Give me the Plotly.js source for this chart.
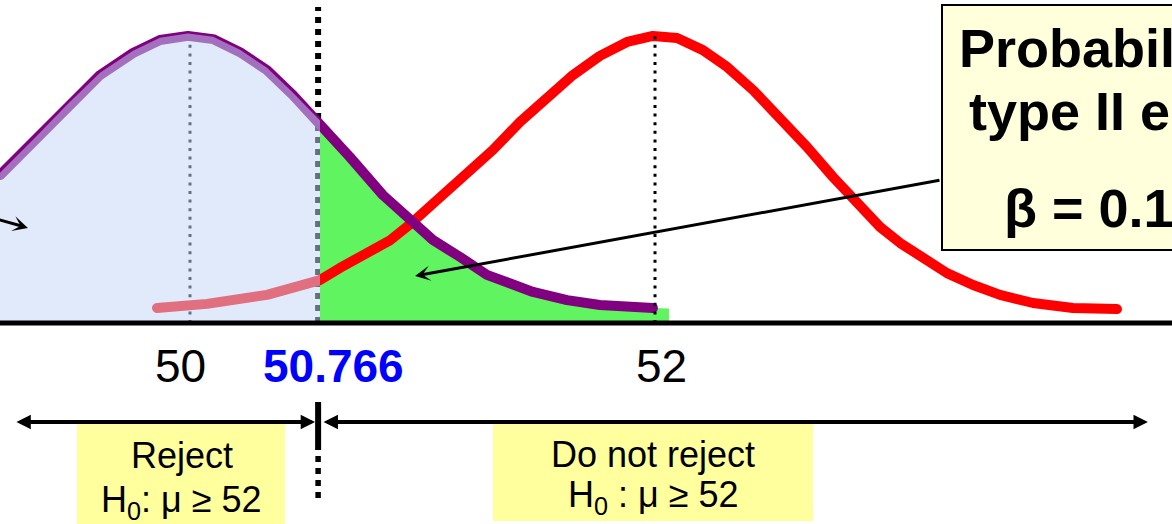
<!DOCTYPE html>
<html>
<head>
<meta charset="utf-8">
<script src="https://cdn.plot.ly/plotly-3.0.1.min.js"></script>
<style>
  html, body { margin: 0; padding: 0; background: #ffffff; }
  #chart { width: 1172px; height: 524px; }
  .js-line { stroke-linecap: round; stroke-linejoin: round; }
</style>
</head>
<body>
<div id="chart"></div>
<script>
// ---- data (x in sample-mean units, y = relative density) ----
const purpleX = [49.183, 49.325, 49.471, 49.613, 49.755, 49.871, 49.991, 50.099, 50.215, 50.331, 50.443,
                 50.559, 50.688, 50.830, 50.946, 51.045, 51.161, 51.277, 51.475, 51.622, 51.763, 51.991];
const purpleY = [0.510, 0.624, 0.745, 0.855, 0.931, 0.976, 0.990, 0.979, 0.934, 0.872, 0.786,
                 0.690, 0.572, 0.441, 0.355, 0.286, 0.228, 0.166, 0.107, 0.079, 0.062, 0.052];

const redX = [49.858, 50.073, 50.331, 50.559, 50.645, 50.860, 50.946, 51.088, 51.191, 51.303, 51.419,
              51.535, 51.647, 51.763, 51.880, 51.991, 52.095, 52.206, 52.310, 52.422, 52.538, 52.654,
              52.766, 52.882, 52.968, 53.054, 53.153, 53.256, 53.368, 53.484, 53.626, 53.798, 53.987];
const redY = [0.052, 0.066, 0.097, 0.148, 0.190, 0.285, 0.340, 0.440, 0.518, 0.597, 0.693,
              0.776, 0.855, 0.921, 0.969, 0.990, 0.983, 0.941, 0.883, 0.803, 0.710, 0.607,
              0.503, 0.400, 0.331, 0.276, 0.224, 0.172, 0.131, 0.097, 0.069, 0.052, 0.048];

const tickLabels = ["50", "50.766", "52"];
const meanH0 = 50;          // purple curve centre
const meanH1 = 52;          // red curve centre
const critValue = 50.766;   // critical value (label)
const critDrawn = 50.551;   // where the slide draws the critical line
const splitX = 50.559;      // fill split at the critical line
const greenEnd = [52.06, 0.05];
const rejectLabel = ["Reject", "H<sub>0</sub>: μ ≥ 52"];
const keepLabel = ["Do not reject", "H<sub>0</sub> : μ ≥ 52"];
const calloutLines = ["Probability of", "type II error", "β = 0.1"];

// ---- helpers for layout placement ----
const W = 1172, H = 524;
const xr = [49.18280, 54.22366];
const yr = [-0.69310, 1.11379];
const PX = p => p / W;
const PY = p => 1 - p / H;
const FONT = "Arial, 'Liberation Sans', sans-serif";

const idxBlue = purpleX.map((v, i) => i).filter(i => purpleX[i] <= splitX + 1e-9);
const idxGreen = purpleX.map((v, i) => i).filter(i => purpleX[i] >= splitX - 1e-9);

const traces = [
  { // beta region (green)
    x: idxGreen.map(i => purpleX[i]).concat([greenEnd[0]]),
    y: idxGreen.map(i => purpleY[i]).concat([greenEnd[1]]),
    mode: 'none', fill: 'tozeroy', fillcolor: '#60f560', hoverinfo: 'skip'
  },
  { // true-mean distribution (red)
    x: redX, y: redY, mode: 'lines',
    line: { color: '#ff0000', width: 10 }, hoverinfo: 'skip'
  },
  { // H0 distribution (purple)
    x: purpleX, y: purpleY, mode: 'lines',
    line: { color: '#800080', width: 10 }, hoverinfo: 'skip'
  },
  { // rejection region overlay (translucent blue)
    x: idxBlue.map(i => purpleX[i]), y: idxBlue.map(i => purpleY[i] + 0.008),
    mode: 'none', fill: 'tozeroy', fillcolor: 'rgba(196,215,246,0.52)', hoverinfo: 'skip'
  }
];

const yArrow = (323 - 422) / 290;

const shapes = [
  // thin dotted lines at the means
  { type: 'line', xref: 'x', yref: 'y', x0: meanH0, x1: meanH0, y0: 0, y1: Math.max(...purpleY),
    line: { color: '#000000', width: 3, dash: '3px,5.6px' }, layer: 'below' },
  { type: 'line', xref: 'x', yref: 'y', x0: meanH1, x1: meanH1, y0: 0, y1: Math.max(...redY),
    line: { color: '#000000', width: 3, dash: '3px,5.6px' }, layer: 'above' },
  // critical line (upper dotted part)
  { type: 'line', xref: 'x', yref: 'y', x0: critDrawn, x1: critDrawn, y0: 0, y1: (323 - 7) / 290,
    line: { color: '#000000', width: 6, dash: '6px,6px' }, layer: 'below' },
  // critical tick on the decision line
  { type: 'line', xref: 'x', yref: 'y', x0: critDrawn, x1: critDrawn, y0: (323 - 402) / 290, y1: (323 - 450) / 290,
    line: { color: '#000000', width: 6 }, layer: 'above' },
  { type: 'line', xref: 'x', yref: 'y', x0: critDrawn, x1: critDrawn, y0: (323 - 456) / 290, y1: (323 - 501) / 290,
    line: { color: '#000000', width: 5.5, dash: '6px,6px' }, layer: 'above' },
  // horizontal axis
  { type: 'line', xref: 'paper', yref: 'y', x0: 0, x1: 1, y0: 0, y1: 0,
    line: { color: '#000000', width: 5 }, layer: 'above' },
  // yellow label boxes
  { type: 'rect', xref: 'paper', yref: 'paper', x0: PX(77), x1: PX(285), y0: PY(524), y1: PY(424),
    fillcolor: '#ffff9e', line: { width: 0 }, layer: 'above' },
  { type: 'rect', xref: 'paper', yref: 'paper', x0: PX(493), x1: PX(813), y0: PY(521), y1: PY(424),
    fillcolor: '#ffff9e', line: { width: 0 }, layer: 'above' },
  // callout box
  { type: 'rect', xref: 'paper', yref: 'paper', x0: PX(942), x1: PX(1300), y0: PY(250), y1: PY(5),
    fillcolor: '#ffffdc', line: { color: '#000000', width: 2 }, layer: 'above' }
];

const txt = (text, x, yTop, size, opts = {}) => Object.assign({
  text: text, xref: 'paper', yref: 'paper', x: PX(x), y: PY(yTop),
  xanchor: 'center', yanchor: 'top', showarrow: false,
  font: { family: FONT, size: size, color: '#000000' }
}, opts);

const arrow = (x, y, ax, ay, opts) => Object.assign({
  text: '', xref: 'x', yref: 'y', axref: 'x', ayref: 'y',
  x: x, y: y, ax: ax, ay: ay, showarrow: true, arrowcolor: '#000000'
}, opts);

const annotations = [
  // axis tick labels
  txt(tickLabels[0], 180, 338, 46),
  txt('<b>' + tickLabels[1] + '</b>', 333.5, 338, 46, { font: { family: FONT, size: 46, color: '#0000ff' } }),
  txt(tickLabels[2], 661, 338, 46),
  // region labels
  txt(rejectLabel[0], 181.5, 433, 36),
  txt(rejectLabel[1], 181.5, 477, 36),
  txt(keepLabel[0], 653, 432, 36),
  txt(keepLabel[1], 653, 472, 36),
  // callout text
  txt('<b>' + calloutLines[0] + '</b>', 957, 16, 54, { xanchor: 'left' }),
  txt('<b>' + calloutLines[1] + '</b>', 967, 79, 54, { xanchor: 'left' }),
  txt('<b>' + calloutLines[2] + '</b>', 1002, 176, 54, { xanchor: 'left' }),
  // decision-line arrows
  arrow(50.538, yArrow, 49.247, yArrow, { arrowhead: 2, startarrowhead: 2, arrowside: 'end+start',
    arrowwidth: 4, arrowsize: 0.72, startarrowsize: 0.72, standoff: 0, startstandoff: 0 }),
  arrow(54.120, yArrow, 50.568, yArrow, { arrowhead: 2, startarrowhead: 2, arrowside: 'end+start',
    arrowwidth: 4, arrowsize: 0.72, startarrowsize: 0.72, standoff: 0, startstandoff: 0 }),
  // callout arrow into the beta region
  arrow(50.968, 0.162, 53.230, 0.493, { arrowhead: 3, arrowwidth: 3, arrowsize: 0.85, standoff: 0 }),
  // small arrow entering from the left edge
  arrow(49.303, 0.328, 48.925, 0.414, { arrowhead: 3, arrowwidth: 3, arrowsize: 0.85, standoff: 0 })
];

const layout = {
  width: W, height: H, autosize: false,
  margin: { l: 0, r: 0, t: 0, b: 0, pad: 0 },
  paper_bgcolor: '#ffffff', plot_bgcolor: '#ffffff',
  showlegend: false,
  xaxis: { range: xr, visible: false, showgrid: false, zeroline: false, fixedrange: true },
  yaxis: { range: yr, visible: false, showgrid: false, zeroline: false, fixedrange: true },
  shapes: shapes,
  annotations: annotations,
  font: { family: FONT }
};

Plotly.newPlot('chart', traces, layout, { displayModeBar: false, staticPlot: true });
</script>
</body>
</html>
